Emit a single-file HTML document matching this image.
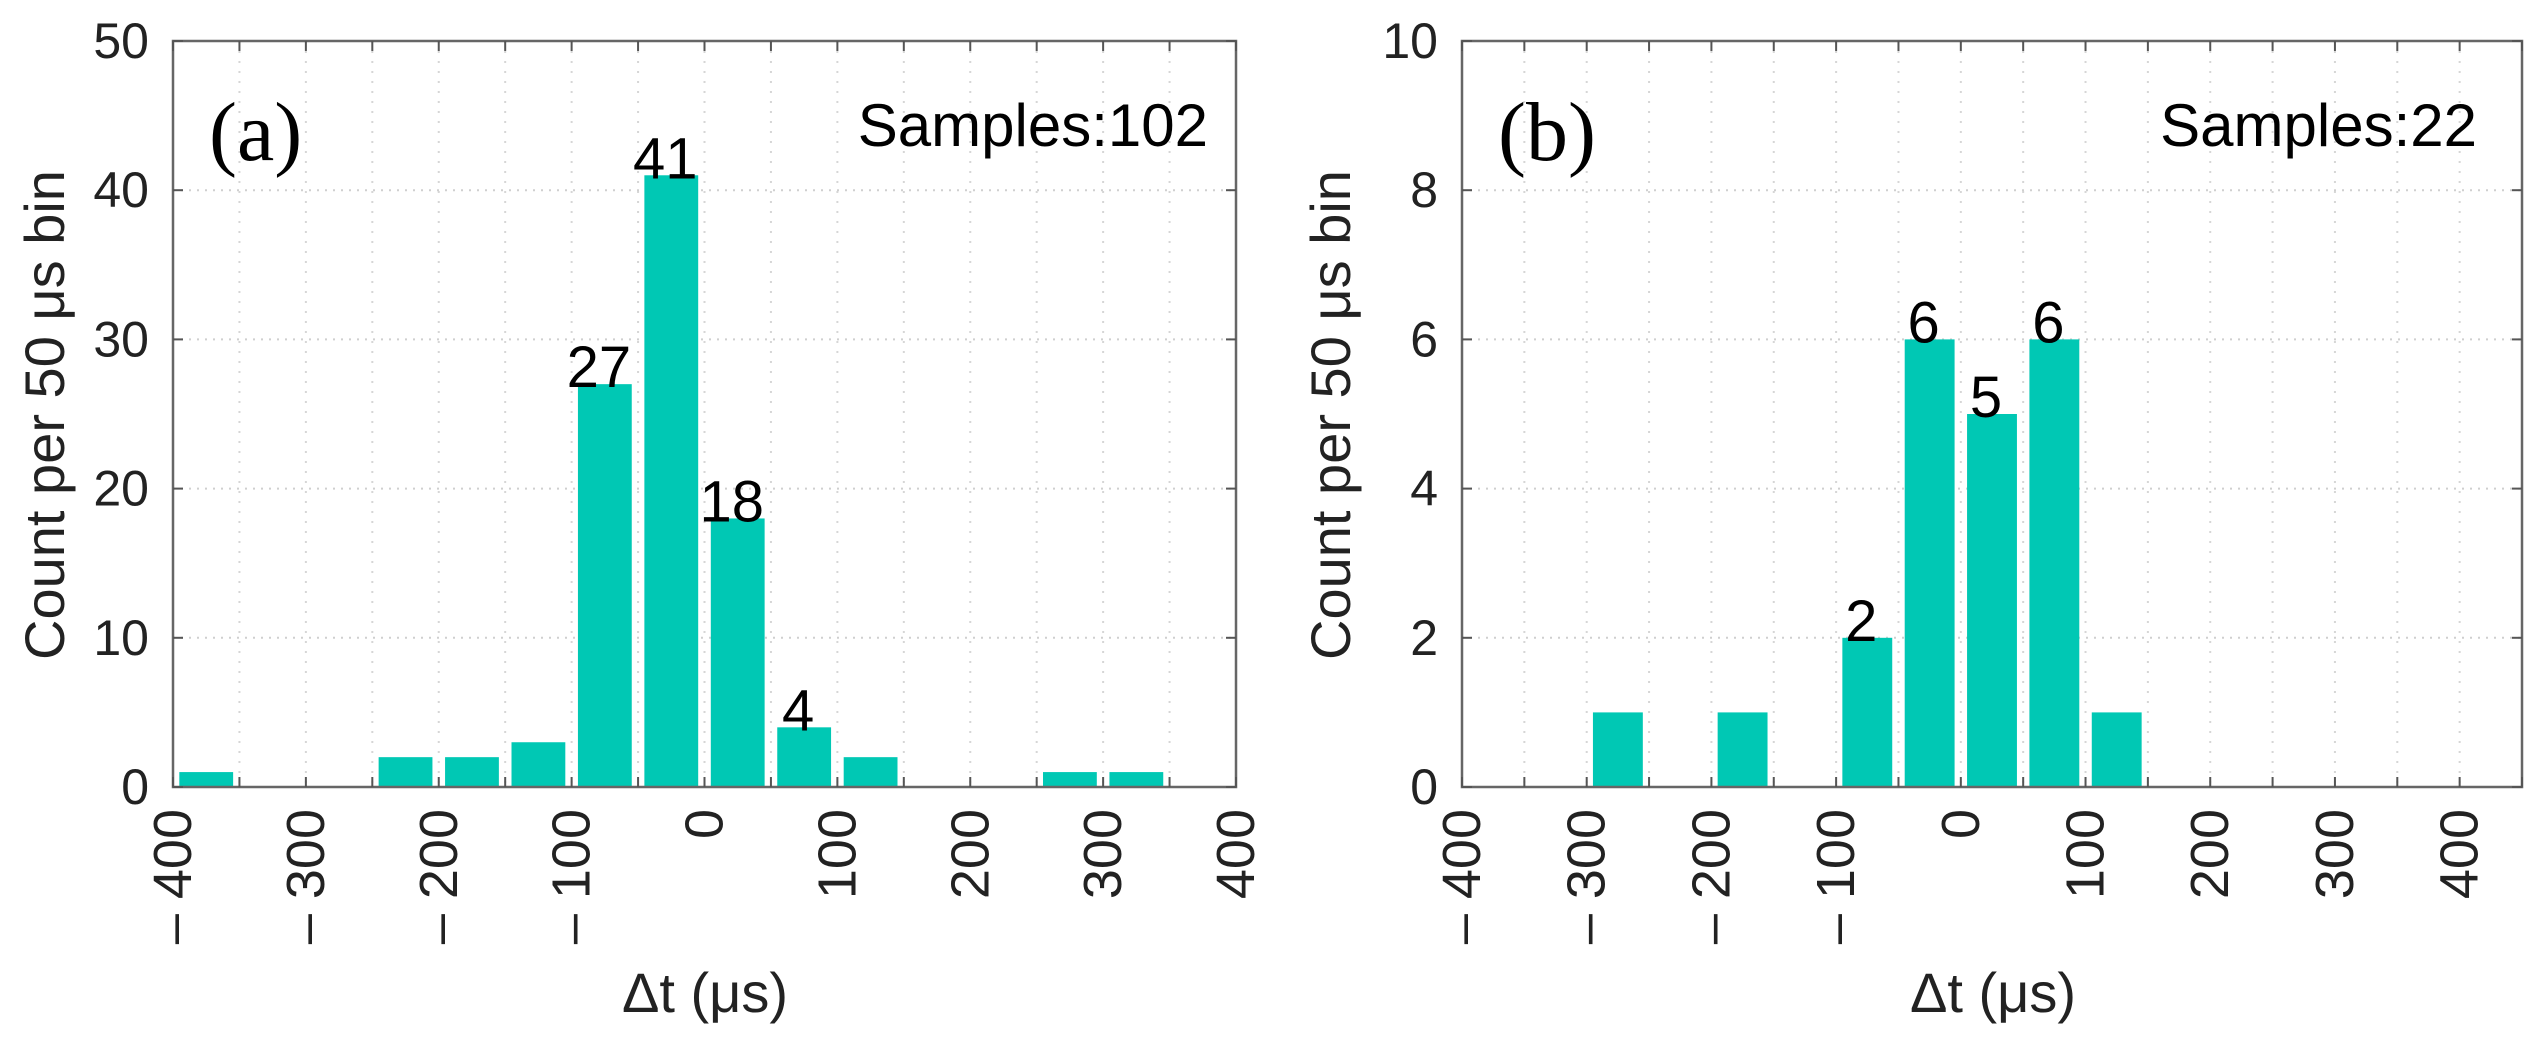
<!DOCTYPE html>
<html><head><meta charset="utf-8">
<style>
html,body{margin:0;padding:0;background:#fff;}
svg{display:block;font-family:"Liberation Sans",sans-serif;}
</style></head>
<body>
<svg id="chart" width="2548" height="1052" viewBox="0 0 2548 1052" xmlns="http://www.w3.org/2000/svg"></svg>
<script>
// Panel (a) data
const aBinCenters = [-375,-325,-275,-225,-175,-125,-75,-25,25,75,125,175,225,275,325,375];
const aCounts = [1,0,0,2,2,3,27,41,18,4,2,0,0,1,1,0];
const aLabeled = [27,41,18,4];
const aYTicks = [0,10,20,30,40,50];
const aXTicks = [-400,-300,-200,-100,0,100,200,300,400];
// Panel (b) data
const bBinCenters = [-275,-175,-75,-25,25,75,125];
const bCounts = [1,1,2,6,5,6,1];
const bLabeled = [2,6,5,6];
const bYTicks = [0,2,4,6,8,10];
const bXTicks = [-400,-300,-200,-100,0,100,200,300,400];

const NS = "http://www.w3.org/2000/svg";
const svg = document.getElementById('chart');
function mk(tag, attrs, parent){
  const e = document.createElementNS(NS, tag);
  for (const k in attrs) e.setAttribute(k, attrs[k]);
  (parent||svg).appendChild(e);
  return e;
}

function panel(opt){
  const g = mk('g', {});
  
  
  const L=opt.left, R=opt.right, T=41, B=787;
  const xs = v => L + (v - opt.xmin) / (opt.xmax - opt.xmin) * (R - L);
  const ys = v => B - (v - opt.ymin) / (opt.ymax - opt.ymin) * (B - T);
  // grid
  for (let v = opt.xmin + 50; v < opt.xmax; v += 50) {
    const l = mk('line', {x1:xs(v), x2:xs(v), y1:T, y2:B, stroke:'#d6d6d6', 'stroke-width':2, 'stroke-dasharray':'2 8'}, g);
    
    
  }
  opt.yTicks.forEach(v => {
    if (v === opt.ymin || v === opt.ymax) return;
    const l = mk('line', {x1:L, x2:R, y1:ys(v), y2:ys(v), stroke:'#cfcfcf', 'stroke-width':2, 'stroke-dasharray':'2 6'}, g);
    
    
  });
  // bars
  const bw = 50 * opt.barFrac;
  opt.centers.forEach((c, i) => {
    const v = opt.counts[i];
    if (v <= 0) return;
    const x0 = xs(c - bw/2), x1 = xs(c + bw/2);
    const r = mk('rect', {x:x0, y:ys(v), width:x1-x0, height:ys(0)-ys(v), fill:'#00c8b4'}, g);
    
    
  });
  // bar value labels
  opt.labeled.forEach(val => {
    const i = opt.counts.indexOf(val, opt._used ? opt._used[val]||0 : 0);
    opt._used = opt._used || {};
    opt._used[val] = i + 1;
    const t = mk('text', {x:xs(opt.centers[i]) - 6, y:ys(val) + 3, 'font-size':opt.barFont, 'text-anchor':'middle', fill:'#000'}, g);
    t.textContent = String(val);
    
    
  });
  // frame
  const f = mk('rect', {x:L, y:T, width:R-L, height:B-T, fill:'none', stroke:'#666', 'stroke-width':2.5}, g);
  
  
  // x ticks every 50
  for (let v = opt.xmin; v <= opt.xmax; v += 50) {
    mk('line', {x1:xs(v), x2:xs(v), y1:B, y2:B-10, stroke:'#555', 'stroke-width':2}, g);
    mk('line', {x1:xs(v), x2:xs(v), y1:T, y2:T+10, stroke:'#555', 'stroke-width':2}, g);
  }
  opt.yTicks.forEach(v => {
    mk('line', {x1:L, x2:L+10, y1:ys(v), y2:ys(v), stroke:'#555', 'stroke-width':2}, g);
    mk('line', {x1:R, x2:R-10, y1:ys(v), y2:ys(v), stroke:'#555', 'stroke-width':2}, g);
    const t = mk('text', {x:L-24, y:ys(v), 'font-size':50, 'text-anchor':'end', 'dominant-baseline':'central', fill:'#222'}, g);
    t.textContent = String(v);
    
    
  });
  opt.xTicks.forEach(v => {
    const x = xs(v), y = 809;
    const t = mk('text', {x:0, y:0, 'font-size':54, 'text-anchor':'end', 'dominant-baseline':'central', fill:'#222', transform:`translate(${x},${y}) rotate(-90)`}, g);
    t.textContent = v < 0 ? '\u2013 ' + Math.abs(v) : String(v);
    
    
  });
  // axis titles
  const yt = mk('text', {x:0, y:0, 'font-size':56, 'text-anchor':'middle', fill:'#222', transform:`translate(${opt.yTitleX},415) rotate(-90)`}, g);
  yt.textContent = 'Count per 50 \u03bcs bin';
  
  
  const xt = mk('text', {x:opt.xTitleX, y:1012, 'font-size':56, 'text-anchor':'middle', fill:'#222'}, g);
  xt.textContent = '\u0394t (\u03bcs)';
  
  
  // panel letter
  const pl = mk('text', {x:L+36, y:160, 'font-size':84, 'font-family':'Liberation Serif, serif', fill:'#000'}, g);
  pl.textContent = opt.letter;
  
  
  const sm = mk('text', {x:opt.samplesX, y:146, 'font-size':60, 'text-anchor':'end', fill:'#000'}, g);
  sm.textContent = opt.samples;
  
  
}

panel({name:'panel-a', left:173, right:1236, xmin:-400, xmax:400, ymin:0, ymax:50,
  centers:aBinCenters, counts:aCounts, labeled:aLabeled, yTicks:aYTicks, xTicks:aXTicks,
  barFrac:0.81, barFont:58, yTitleX:64, xTitleX:705, letter:'(a)', samples:'Samples:102', samplesX:1208});
panel({name:'panel-b', left:1462, right:2522, xmin:-400, xmax:450, ymin:0, ymax:10,
  centers:bBinCenters, counts:bCounts, labeled:bLabeled, yTicks:bYTicks, xTicks:bXTicks,
  barFrac:0.8, barFont:58, yTitleX:1350, xTitleX:1993, letter:'(b)', samples:'Samples:22', samplesX:2477});
</script>
</body></html>
